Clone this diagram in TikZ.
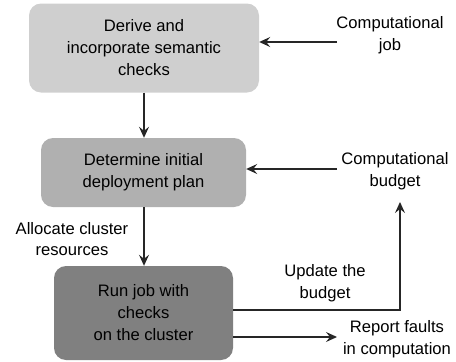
\documentclass[tikz,border=0pt]{standalone}
\usepackage{fontspec}
\setmainfont{Liberation Sans}
\usetikzlibrary{arrows.meta}
\begin{document}
\begin{tikzpicture}[x=1pt,y=-1pt,
  box/.style={rounded corners=12pt, draw=none, align=center, inner sep=0pt,
    font=\fontsize{16.6}{22}\selectfont},
  lbl/.style={align=center, inner sep=0pt, font=\fontsize{16.6}{21.5}\selectfont},
  arr/.style={draw=black!85, line width=1.3pt, -{Stealth[length=11pt,width=10pt,inset=4pt]}}]
\useasboundingbox (0,0) rectangle (456,362);
\node[box, fill=black!19, minimum width=230pt, minimum height=89pt] (b1) at (144,48)
  {Derive and\\incorporate semantic\\checks};
\node[box, fill=black!31, minimum width=205pt, minimum height=69pt] (b2) at (143.5,172.5)
  {Determine initial\\deployment plan};
\node[box, fill=black!50, minimum width=179pt, minimum height=94pt] (b3) at (143.5,313)
  {Run job with\\checks\\on the cluster};
\node[lbl] (job) at (390,35) {Computational\\job};
\node[lbl] (bud) at (395,171) {Computational\\budget};
\node[lbl] (upd) at (325,283) {Update the\\budget};
\node[lbl] (rep) at (397,339) {Report faults\\in computation};
\node[lbl] (alloc) at (72,239) {Allocate cluster\\resources};
\coordinate (jobs) at (337,42);
\coordinate (buds) at (337,169);
\coordinate (updc) at (400,310);
\coordinate (updt) at (400,202);
\coordinate (repe) at (337,337);
\draw[arr] (jobs) -- (b1.east |- jobs);
\draw[arr] (buds) -- (b2.east |- buds);
\draw[arr] (b1.south) -- (b2.north -| b1.south);
\draw[arr] (b2.south -| b1.south) -- (b3.north -| b1.south);
\draw[arr] (b3.east |- updc) -- (updc) -- (updt);
\draw[arr] (b3.east |- repe) -- (repe);
\end{tikzpicture}
\end{document}
